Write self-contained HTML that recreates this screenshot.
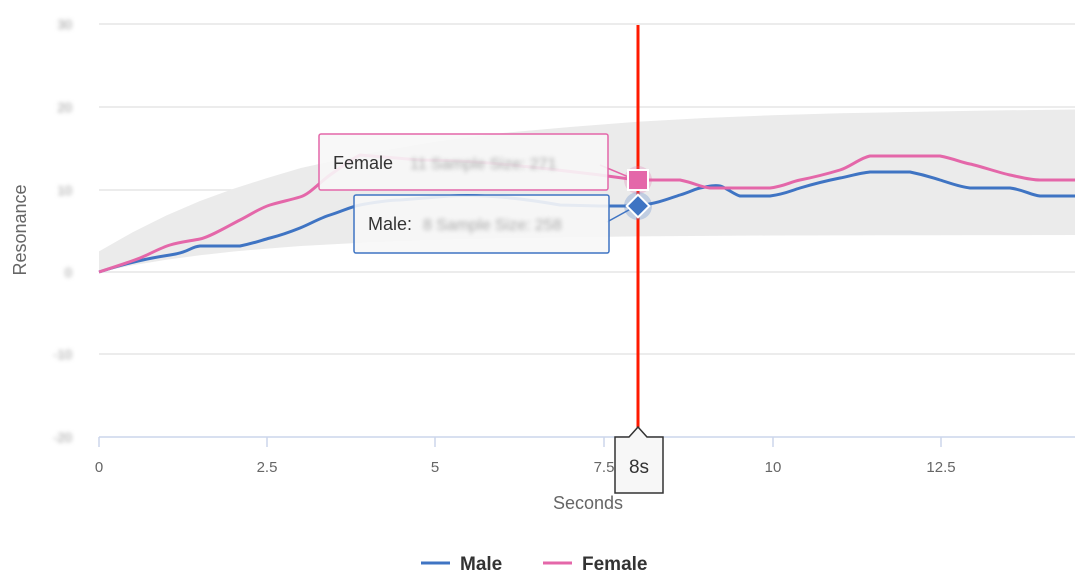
<!DOCTYPE html>
<html><head><style>
body{margin:0;background:#fff;}
svg{display:block;font-family:"Liberation Sans",sans-serif;}
.blur{filter:blur(2px);}
</style></head><body>
<svg width="1091" height="577" viewBox="0 0 1091 577">
<g stroke="#e6e6e6" stroke-width="1.5">
<line x1="99" y1="24" x2="1075" y2="24"/>
<line x1="99" y1="107" x2="1075" y2="107"/>
<line x1="99" y1="190" x2="1075" y2="190"/>
<line x1="99" y1="272" x2="1075" y2="272"/>
<line x1="99" y1="354" x2="1075" y2="354"/>
</g>
<g fill="#999" font-size="13" text-anchor="end" class="blur">
<text x="72" y="29">30</text><text x="72" y="112">20</text><text x="72" y="195">10</text>
<text x="72" y="277">0</text><text x="72" y="359">-10</text><text x="72" y="442">-20</text>
</g>
<polygon points="99,251.4 132.7,232.2 166.3,215.5 200,201 233.6,188.7 267.3,178 300.9,168 368.2,153.2 435.5,141.6 502.8,133 570,127 637.4,121.8 705,118 772,115.2 840,113.3 906.6,112 990,110.5 1075,109.5 1075,235 906.6,235.2 772,235.5 637.4,236.4 502.8,238.3 435.5,239.9 368.2,242.4 300.9,246 267.3,248.6 233.6,251.5 200,255.3 166.3,259.8 132.7,265.3 99,272" fill="#ebebeb"/>
<line x1="99" y1="437" x2="1075" y2="437" stroke="#ccd6eb" stroke-width="1.5"/>
<g stroke="#ccd6eb" stroke-width="1.5">
<line x1="99" y1="437" x2="99" y2="447"/><line x1="267" y1="437" x2="267" y2="447"/>
<line x1="435" y1="437" x2="435" y2="447"/><line x1="604" y1="437" x2="604" y2="447"/>
<line x1="773" y1="437" x2="773" y2="447"/><line x1="941" y1="437" x2="941" y2="447"/>
</g>
<g fill="#666" font-size="15" text-anchor="middle">
<text x="99" y="472">0</text><text x="267" y="472">2.5</text><text x="435" y="472">5</text>
<text x="604" y="472">7.5</text><text x="773" y="472">10</text><text x="941" y="472">12.5</text>
<text x="588" y="509" font-size="18">Seconds</text>
<text transform="translate(26,230) rotate(-90)" font-size="18">Resonance</text>
</g>
<path d="M99,272 C130,262 150,258 170,255 S190,247 200,246 L240,246 C255,243 262,240 270,238 S290,232 300,228 S320,218 330,215 S350,207 360,205 S390,200 400,200 L450,196 C480,194 520,198 560,205 L600,206 L637,206 C660,203 670,198 680,195 S695,189 700,188 C710,186 715,185 720,186 S735,195 740,196 L770,196 C785,194 790,191 800,188 S830,180 840,178 S860,173 870,172 L910,172 C925,175 930,177 940,180 S960,187 970,188 L1010,188 C1025,190 1030,195 1040,196 L1075,196" fill="none" stroke="#3f74c3" stroke-width="3"/>
<path d="M99,272 C120,265 130,262 140,258 S160,248 170,245 S190,241 200,239 S230,225 240,220 S260,208 270,205 S290,200 300,197 S320,182 330,175 S350,160 360,155 L420,160 C480,160 540,168 600,175 L637,180 L680,180 C695,183 700,187 710,188 L770,188 C785,186 790,182 800,180 S830,173 840,170 S860,158 870,156 L940,156 C955,159 960,162 970,164 S1000,173 1010,175 S1030,180 1040,180 L1075,180" fill="none" stroke="#e467a9" stroke-width="3"/>
<line x1="638" y1="25" x2="638" y2="436" stroke="#ff1a00" stroke-width="3"/>
<circle cx="638" cy="180" r="14" fill="#e467a9" opacity="0.25"/>
<circle cx="638" cy="206" r="14" fill="#3f74c3" opacity="0.25"/>
<line x1="600" y1="165" x2="636" y2="180" stroke="#e467a9" stroke-width="1.5"/>
<line x1="607" y1="222" x2="636" y2="206" stroke="#3f74c3" stroke-width="1.5"/>
<rect x="628" y="170" width="20" height="20" fill="#e467a9" stroke="#fff" stroke-width="2"/>
<rect x="630" y="198" width="16" height="16" fill="#3f74c3" stroke="#fff" stroke-width="2" transform="rotate(45 638 206)"/>
<g>
<rect x="319" y="134" width="289" height="56" fill="#f7f7f7" fill-opacity="0.9" stroke="#e467a9" stroke-width="1.5" rx="2"/>
<text x="333" y="169" font-size="18" fill="#333">Female</text>
<text x="410" y="169" font-size="16" fill="#aaa" class="blur">11 Sample Size: 271</text>
<rect x="354" y="195" width="255" height="58" fill="#f7f7f7" fill-opacity="0.9" stroke="#3f74c3" stroke-width="1.5" rx="2"/>
<text x="368" y="230" font-size="18" fill="#333">Male:</text>
<text x="423" y="230" font-size="16" fill="#aaa" class="blur">8 Sample Size: 258</text>
</g>
<path d="M615,437 L629,437 L638,427 L647,437 L663,437 L663,493 L615,493 Z" fill="#f7f7f7" stroke="#333" stroke-width="1.5"/>
<text x="639" y="473" font-size="19" fill="#333" text-anchor="middle">8s</text>
<line x1="421" y1="563" x2="450" y2="563" stroke="#3f74c3" stroke-width="3"/>
<text x="460" y="570" font-size="19" font-weight="bold" fill="#333">Male</text>
<line x1="543" y1="563" x2="572" y2="563" stroke="#e467a9" stroke-width="3"/>
<text x="582" y="570" font-size="19" font-weight="bold" fill="#333">Female</text>
</svg>
</body></html>
